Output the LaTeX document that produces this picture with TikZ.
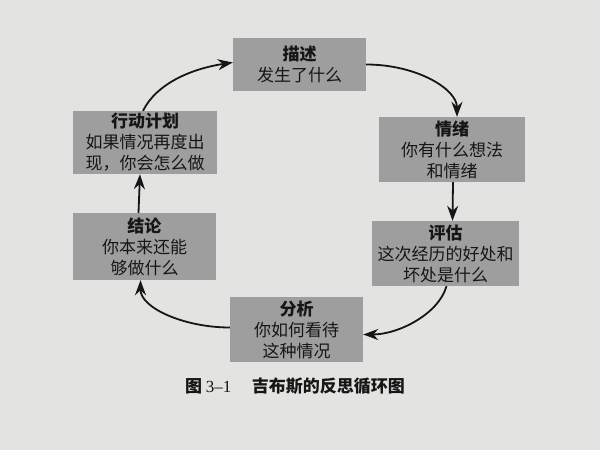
\documentclass[tikz,border=0pt]{standalone}
\usepackage{fontspec}
\usepackage{xcolor}
\usepackage{tikz}
\usetikzlibrary{arrows.meta}
\setmainfont{Noto Sans CJK SC}
\newfontfamily\latinnum{Liberation Serif}
\definecolor{paper}{HTML}{E3E3E1}
\definecolor{boxgray}{HTML}{9E9E9E}
\definecolor{ink}{HTML}{161616}

\begin{document}
\begin{tikzpicture}[x=1pt,y=-1pt,
  stage/.style={rectangle,fill=boxgray,inner sep=0pt,align=center,text=ink,
    font=\fontsize{17}{21}\selectfont},
  flow/.style={line width=1.8pt,draw=ink,-{Stealth[length=15pt,width=11pt]}}]
\fill[paper] (0,0) rectangle (600,450);
%\draw[help lines,step=50] (0,0) grid (600,450);
\path (0,0)
(299.5,64.5) node(miaoshu) [stage,minimum width=133pt,minimum height=53pt] {\textbf{描述}\\发生了什么}
(452,149.5) node(qingxu) [stage,minimum width=146pt,minimum height=65pt] {\textbf{情绪}\\你有什么想法\\和情绪}
(445.5,253.5) node(pinggu) [stage,minimum width=147pt,minimum height=65pt] {\textbf{评估}\\这次经历的好处和\\坏处是什么}
(296.5,329.5) node(fenxi) [stage,minimum width=133pt,minimum height=65pt] {\textbf{分析}\\你如何看待\\这种情况}
(144.5,246.5) node(jielun) [stage,minimum width=143pt,minimum height=67pt] {\textbf{结论}\\你本来还能\\够做什么}
(145,142.5) node(xingdong) [stage,minimum width=144pt,minimum height=63pt] {\textbf{行动计划}\\如果情况再度出\\现，你会怎么做};
\path (295,386) node(caption) [text=ink,font=\fontsize{17}{19}\selectfont]
  {\textbf{图} {\latinnum 3–1}\hspace{1.2em}\textbf{吉布斯的反思循环图}};
\draw[flow] (miaoshu.east) .. controls +(50,0) and +(0,-28) .. ([xshift=5pt]qingxu.north);
\draw[flow] ([xshift=1pt]qingxu.south) -- ([xshift=7pt]pinggu.north);
\draw[flow] ([xshift=1pt]pinggu.south) .. controls +(-8,28) and +(35,0) .. ([yshift=-5pt]fenxi.east);
\draw[flow] ([yshift=2pt]fenxi.west) .. controls +(-45,0) and +(0,28) .. ([xshift=-4pt]jielun.south);
\draw[flow] ([xshift=-6pt]jielun.north) -- ([xshift=-5pt]xingdong.south);
\draw[flow] ([xshift=-2pt]xingdong.north) .. controls +(14,-28) and +(-40,6) .. ([yshift=2pt]miaoshu.west);
\end{tikzpicture}
\end{document}
